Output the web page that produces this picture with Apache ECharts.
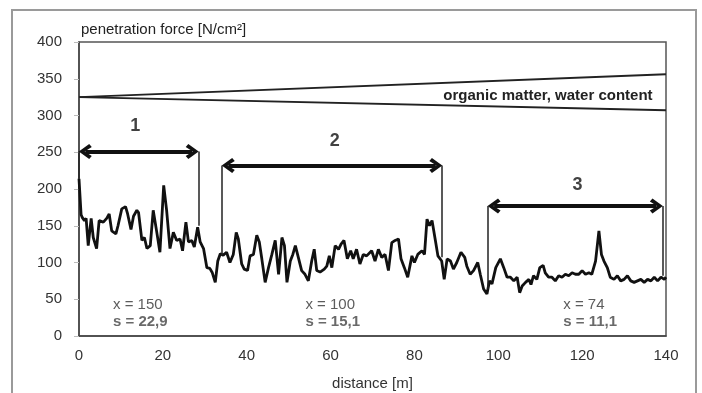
<!DOCTYPE html>
<html>
<head>
<meta charset="utf-8">
<script src="https://cdn.jsdelivr.net/npm/echarts@6/dist/echarts.min.js"></script>
<style>
  html, body { margin: 0; padding: 0; background: #fff; }
  #chart { width: 702px; height: 393px; }
</style>
</head>
<body>
<div id="chart"></div>
<script>
// distance [m] and penetration force [N/cm²]
const distance = [
  0, 0.5, 0.8, 1.3, 1.7, 2.2, 2.9, 3.4, 4.2, 4.8, 5.8, 6.6, 7.2, 7.8, 8.8, 9.3,
  10.2, 11.1, 11.6, 12.4, 13.0, 13.8, 14.2, 15.0, 15.6, 16.2, 17.0, 17.7, 18.5, 19.3,
  20.2, 20.9, 21.7, 22.5, 23.3, 24.1, 24.7, 25.5, 26.1, 26.9, 27.5, 28.3, 28.9, 29.7,
  30.5, 31.2, 31.8, 32.5, 33.1, 33.7, 34.4, 35.2, 36.0, 36.8, 37.5, 38.0, 38.8, 39.4,
  40.2, 40.8, 41.6, 42.4, 43.0, 43.6, 44.4, 45.2, 46.0, 46.8, 47.6, 48.4, 49.0, 49.6,
  50.4, 51.0, 51.6, 52.4, 53.1, 53.9, 54.7, 55.5, 56.1, 56.7, 57.5, 58.5, 59.1, 59.7,
  60.3, 61.1, 61.9, 62.5, 63.2, 64.0, 64.8, 65.4, 66.2, 67.0, 67.8, 68.6, 69.0, 69.8,
  70.6, 71.4, 72.2, 73.0, 73.8, 74.6, 75.4, 76.2, 76.8, 77.6, 78.4, 79.4,
  80.0, 80.8, 81.8, 82.4, 83.0, 83.6, 84.2, 85.0, 85.6, 86.5, 87.1, 87.8, 88.6, 89.3,
  90.1, 91.1, 92.0, 92.5, 93.3, 94.1, 95.1, 95.7, 96.5, 97.3, 97.9, 98.5, 99.4,
  100.5, 101.3, 102.1, 102.9, 103.7, 104.5, 105.1, 105.7, 106.5, 107.3, 107.8, 108.4, 109.2, 109.9,
  110.3, 110.7, 111.2, 112.0, 112.8, 113.6, 114.4, 115.2, 116.0, 116.8, 117.6, 118.4, 119.2,
  120.0, 120.8, 121.6, 122.3, 123.2, 124.0, 124.6, 125.2, 126.0, 126.7, 127.6, 128.4, 129.2,
  130.0, 130.8, 131.6, 132.4, 133.2, 134.0, 134.8, 135.6, 136.4, 137.2, 138.0, 138.8, 139.6, 140
];
const force = [
  214, 165, 161, 157, 160, 123, 160, 134, 119, 157, 155, 160, 166, 143, 139, 150,
  173, 176, 166, 145, 163, 171, 168, 130, 134, 119, 123, 171, 143, 114,
  205, 171, 119, 141, 130, 132, 116, 155, 128, 130, 121, 148, 128, 119,
  93, 92, 86, 73, 102, 112, 110, 114, 100, 111, 141, 132, 98, 91,
  89, 109, 111, 137, 128, 105, 73, 93, 111, 130, 84, 134, 123, 73,
  102, 111, 123, 105, 89, 84, 75, 102, 118, 89, 87, 91, 95, 109,
  93, 123, 118, 125, 130, 105, 116, 105, 118, 98, 111, 109, 107, 116,
  102, 118, 107, 111, 89, 127, 130, 132, 105, 93, 80, 109,
  100, 111, 116, 111, 159, 150, 157, 130, 109, 102, 77, 105, 102, 91,
  100, 114, 107, 95, 84, 89, 100, 84, 64, 57, 75, 71, 93,
  105, 93, 80, 80, 75, 80, 59, 68, 73, 77, 70, 82, 77, 93,
  91, 96, 86, 80, 80, 75, 82, 80, 84, 82, 86, 84, 84,
  89, 84, 86, 84, 102, 143, 111, 102, 93, 80, 77, 82, 75,
  77, 82, 75, 73, 75, 77, 73, 77, 75, 80, 75, 80, 77, 80
];

// trend band (organic matter, water content)
const trendX = [0, 140];
const trendUpper = [325, 356];
const trendLower = [325, 307];

// sections 1-3 with double arrows
const sectionNames = ['1', '2', '3'];
const sectionStart = [0, 34.1, 97.5];
const sectionEnd = [28.5, 86.6, 139.2];
const sectionLevel = [251, 232, 177];
const sectionLeftFoot = [214, 110, 64];
const sectionRightFoot = [150, 107, 82];
const sectionLabelX = [13.4, 61, 118.9];
const sectionLabelY = [285, 265, 205];

// statistics per section
const statX = [8.1, 54, 115.5];
const statY = [31, 31, 31];
const meanText = ['x = 150', 'x = 100', 'x = 74'];
const sdText = ['s = 22,9', 's = 15,1', 's = 11,1'];

const FONT = "'Liberation Sans', Arial, sans-serif";
const chevron = 'path://M5,0 L10,8 L8,10 L5,4.5 L2,10 L0,8 Z';
const headInset = 1.5; // arrow heads are centred on their coord

const lineData = distance.map((d, i) => [d, force[i]]);

const markLines = [];
sectionStart.forEach((s, i) => {
  markLines.push([
    { coord: [s + headInset, sectionLevel[i]], symbol: chevron, symbolSize: [15, 13],
      lineStyle: { width: 4, color: '#111', type: 'solid' } },
    { coord: [sectionEnd[i] - headInset, sectionLevel[i]], symbol: chevron, symbolSize: [15, 13] }
  ]);
  markLines.push([
    { coord: [s, sectionLevel[i]], symbol: 'none',
      lineStyle: { width: 1.5, color: '#222', type: 'solid' } },
    { coord: [s, sectionLeftFoot[i]], symbol: 'none' }
  ]);
  markLines.push([
    { coord: [sectionEnd[i], sectionLevel[i]], symbol: 'none',
      lineStyle: { width: 1.5, color: '#222', type: 'solid' } },
    { coord: [sectionEnd[i], sectionRightFoot[i]], symbol: 'none' }
  ]);
});

const chart = echarts.init(document.getElementById('chart'));
chart.setOption({
  animation: false,
  textStyle: { fontFamily: FONT },
  graphic: [{
    type: 'rect',
    shape: { x: 12, y: 10, width: 684, height: 400 },
    style: { fill: 'none', stroke: '#9a9a9a', lineWidth: 2 },
    silent: true
  }],
  grid: {
    left: 79, right: 36, top: 42, bottom: 57, outerBoundsMode: 'none',
    show: true, borderColor: '#555', borderWidth: 1.5
  },
  xAxis: {
    type: 'value', min: 0, max: 140, interval: 20,
    name: 'distance [m]', nameLocation: 'middle', nameGap: 40,
    nameTextStyle: { fontSize: 15, color: '#333' },
    axisLine: { lineStyle: { color: '#444', width: 1.5 } },
    axisTick: { show: false },
    axisLabel: { fontSize: 15, color: '#333', margin: 12 },
    splitLine: { show: false }
  },
  yAxis: {
    type: 'value', min: 0, max: 400, interval: 50,
    name: 'penetration force [N/cm²]', nameLocation: 'end', nameGap: 5,
    nameTextStyle: { fontSize: 15, color: '#222', align: 'left', padding: [0, 0, 0, 2] },
    axisLine: { show: true, lineStyle: { color: '#444', width: 1.5 } },
    axisTick: { show: true, length: 5, lineStyle: { color: '#bbb' } },
    axisLabel: { fontSize: 15, color: '#333', margin: 17 },
    splitLine: { show: false }
  },
  series: [
    {
      type: 'line', data: trendX.map((x, i) => [x, trendUpper[i]]),
      symbol: 'none', lineStyle: { color: '#222', width: 2 }, silent: true
    },
    {
      type: 'line', data: trendX.map((x, i) => [x, trendLower[i]]),
      symbol: 'none', lineStyle: { color: '#222', width: 2 }, silent: true,
      markPoint: {
        symbol: 'circle', symbolSize: 0,
        data: [{ coord: [136.8, 327], value: 'organic matter, water content' }],
        label: {
          show: true, position: 'left', distance: 0, formatter: '{c}',
          fontSize: 15, fontWeight: 'bold', color: '#222', fontFamily: FONT
        }
      }
    },
    {
      type: 'line', data: lineData, symbol: 'none',
      lineStyle: { color: '#111', width: 2.8 },
      markLine: { silent: true, symbol: 'none', label: { show: false }, data: markLines }
    },
    {
      type: 'scatter', symbolSize: 0, silent: true,
      data: sectionNames.map((n, i) => ({ value: [sectionLabelX[i], sectionLabelY[i]], name: n })),
      label: {
        show: true, position: 'inside', formatter: p => p.name,
        fontSize: 18, fontWeight: 'bold', color: '#111'
      }
    },
    {
      type: 'scatter', symbolSize: 0, silent: true,
      data: statX.map((x, i) => ({ value: [x, statY[i]], name: i })),
      label: {
        show: true, position: 'right', distance: 0,
        formatter: p => '{a|' + meanText[p.dataIndex] + '}\n{b|' + sdText[p.dataIndex] + '}',
        rich: {
          a: { fontSize: 15, color: '#333', lineHeight: 17, fontFamily: FONT },
          b: { fontSize: 15, fontWeight: 'bold', color: '#444', lineHeight: 17, fontFamily: FONT }
        }
      }
    }
  ]
});
</script>
</body>
</html>
